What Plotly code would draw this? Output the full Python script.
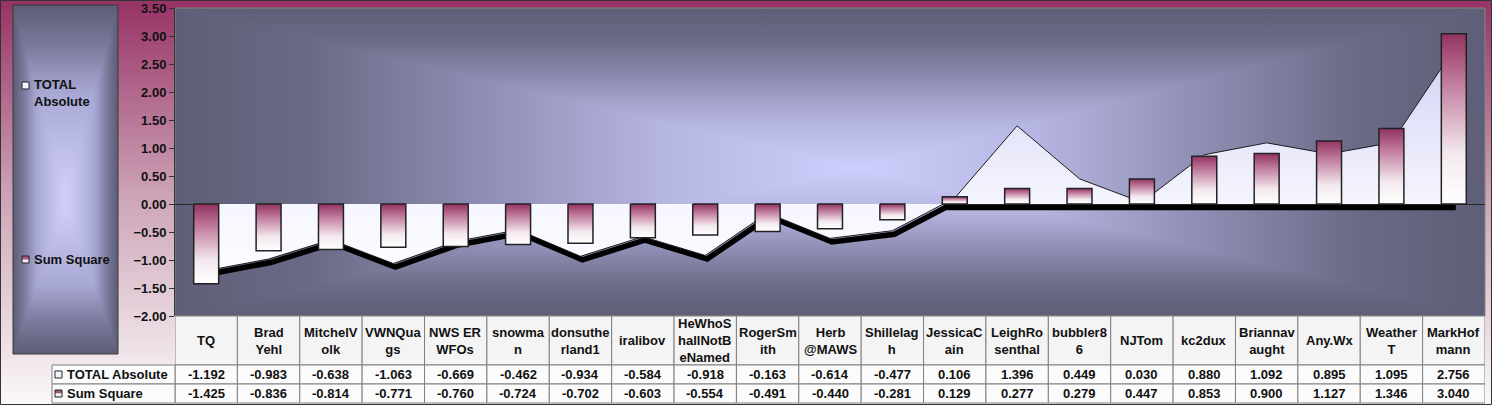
import base64
import numpy as np
import plotly.graph_objects as go

# ---- data -------------------------------------------------------------
categories = ["TQ", "Brad<br>Yehl", "MitchelV<br>olk", "VWNQua<br>gs", "NWS ER<br>WFOs",
              "snowma<br>n", "donsuthe<br>rland1", "iralibov", "HeWhoS<br>hallNotB<br>eNamed",
              "RogerSm<br>ith", "Herb<br>@MAWS", "Shillelag<br>h", "JessicaC<br>ain",
              "LeighRo<br>senthal", "bubbler8<br>6", "NJTom", "kc2dux", "Briannav<br>aught",
              "Any.Wx", "Weather<br>T", "MarkHof<br>mann"]
total_absolute = [-1.192, -0.983, -0.638, -1.063, -0.669, -0.462, -0.934, -0.584, -0.918,
                  -0.163, -0.614, -0.477, 0.106, 1.396, 0.449, 0.030, 0.880, 1.092, 0.895,
                  1.095, 2.756]
sum_square = [-1.425, -0.836, -0.814, -0.771, -0.760, -0.724, -0.702, -0.603, -0.554,
              -0.491, -0.440, -0.281, 0.129, 0.277, 0.279, 0.447, 0.853, 0.900, 1.127,
              1.346, 3.040]
series_names = ["TOTAL Absolute", "Sum Square"]
y_ticks = [-2.0, -1.5, -1.0, -0.5, 0.0, 0.5, 1.0, 1.5, 2.0, 2.5, 3.0, 3.5]

# ---- geometry ---------------------------------------------------------
W, H = 1492, 405
PL, PR, PT, PB = 175, 1485, 8, 316          # plot area in pixels
Y_MIN, Y_MAX = -2.0, 3.5
n = len(categories)
FONT = "Arial, Liberation Sans, sans-serif"


def fx(px):
    return (px - PL) / (PR - PL)


def fy(py):
    return (PB - py) / (PB - PT)


def svg_uri(svg):
    return "data:image/svg+xml;base64," + base64.b64encode(svg.encode()).decode()


def stops_xml(stops):
    return "".join(f'<stop offset="{o}" stop-color="{c}"/>' for o, c in stops)


def center_gradient(cx, cy, stops):
    """Rectangular 'from centre' gradient built from four triangles."""
    tris = [
        ("t", f"0,0 100,0 {cx},{cy}", (0, 0, 0, cy)),
        ("b", f"0,100 100,100 {cx},{cy}", (0, 100, 0, cy)),
        ("l", f"0,0 0,100 {cx},{cy}", (0, 0, cx, 0)),
        ("r", f"100,0 100,100 {cx},{cy}", (100, 0, cx, 0)),
    ]
    defs = "".join(
        f'<linearGradient id="{k}" gradientUnits="userSpaceOnUse" x1="{a}" y1="{b}" '
        f'x2="{c}" y2="{d}">{stops_xml(stops)}</linearGradient>'
        for k, _, (a, b, c, d) in tris)
    polys = "".join(f'<polygon points="{p}" fill="url(#{k})" stroke="url(#{k})" '
                    f'stroke-width="0.3"/>' for k, p, _ in tris)
    return svg_uri(
        '<svg xmlns="http://www.w3.org/2000/svg" width="100" height="100" '
        'viewBox="0 0 100 100" preserveAspectRatio="none">'
        f'<defs>{defs}</defs><rect width="100" height="100" fill="{stops[1][1]}"/>'
        f'{polys}</svg>')


bg_svg = svg_uri(
    '<svg xmlns="http://www.w3.org/2000/svg" width="400" height="400" viewBox="0 0 400 400" '
    'preserveAspectRatio="none"><defs><linearGradient id="g" x1="0" y1="0" x2="0" y2="1">'
    '<stop offset="0" stop-color="#973265"/><stop offset="0.5" stop-color="#cea7b9"/>'
    '<stop offset="1" stop-color="#fbf8fa"/></linearGradient></defs>'
    '<rect width="400" height="400" fill="url(#g)"/></svg>')

plot_svg = center_gradient(52, 52, [(0, "#5e5e78"), (0.2, "#6a6a86"), (0.45, "#8e8eb4"),
                                    (0.72, "#b6b6e2"), (1, "#cfcffd")])
legend_svg = center_gradient(50, 56, [(0, "#5c5c76"), (0.2, "#78789a"), (0.45, "#a8a8d4"),
                                      (1, "#d2d2fd")])

fig = go.Figure()

# ---- drop shadow under the area outline --------------------------------
px_per_unit = (PB - PT) / (Y_MAX - Y_MIN)
sh_dy = 3.5 / px_per_unit
sh_dx = 2.0 / ((PR - PL) / n)
sx, sy = [], []
for i, v in enumerate(total_absolute):
    if i > 0:
        p = total_absolute[i - 1]
        if (p < 0) != (v < 0):
            xc = (i - 1) + p / (p - v)
            sx.append(xc)
            sy.append(0.0)
    sx.append(float(i))
    sy.append(min(v, 0.0))
fig.add_trace(go.Scatter(x=[x + sh_dx for x in sx], y=[y - sh_dy for y in sy],
                         mode="lines", line=dict(color="#000000", width=5.5),
                         hoverinfo="skip", showlegend=False))

# ---- TOTAL Absolute area ----------------------------------------------
fig.add_trace(go.Scatter(
    x=list(range(n)), y=total_absolute, name=series_names[0], mode="lines",
    fill="tozeroy", line=dict(color="#1c1c1c", width=1),
    fillgradient=dict(type="vertical",
                      colorscale=[[0, "#fbfbff"], [0.3, "#f6f6ff"], [1, "#d2d2f5"]]),
    showlegend=False))

# ---- Sum Square bars (gradient filled) ---------------------------------
bar_half = 0.2
bar_scale = [[0, "#ffffff"], [0.3, "#f3e8ee"], [0.7, "#c27f9f"], [1, "#933262"]]
for i, v in enumerate(sum_square):
    fig.add_trace(go.Scatter(
        x=[i - bar_half, i - bar_half, i + bar_half, i + bar_half, i - bar_half],
        y=[0, v, v, 0, 0], mode="lines", fill="toself",
        line=dict(color="#222222", width=1.5),
        fillgradient=dict(type="vertical", colorscale=bar_scale),
        name=series_names[1], showlegend=False, hoverinfo="skip"))

# ---- background images -------------------------------------------------
images = [
    dict(source=bg_svg, xref="paper", yref="paper", x=fx(0), y=fy(0),
         sizex=fx(W) - fx(0), sizey=fy(0) - fy(H), xanchor="left", yanchor="top",
         sizing="stretch", layer="below"),
    dict(source=plot_svg, xref="paper", yref="paper", x=0, y=1, sizex=1, sizey=1,
         xanchor="left", yanchor="top", sizing="stretch", layer="below"),
    dict(source=legend_svg, xref="paper", yref="paper", x=fx(13), y=fy(5),
         sizex=fx(118) - fx(13), sizey=fy(5) - fy(354), xanchor="left", yanchor="top",
         sizing="stretch", layer="below"),
]

shapes = []
annotations = []
grid = "#808080"

# plot area frame (top / right)
shapes.append(dict(type="rect", xref="paper", yref="paper", x0=0, x1=1, y0=0, y1=1,
                   line=dict(color="#7c8c7e", width=1), fillcolor="rgba(0,0,0,0)",
                   layer="below"))

# legend box frame
shapes.append(dict(type="rect", xref="paper", yref="paper", x0=fx(13), x1=fx(118),
                   y0=fy(354), y1=fy(5), line=dict(color="#3a3a3a", width=1),
                   fillcolor="rgba(0,0,0,0)", layer="below"))


def marker(x0px, ymid, kind):
    x1px = x0px + 7
    if kind == 0:
        shapes.append(dict(type="rect", xref="paper", yref="paper", x0=fx(x0px), x1=fx(x1px),
                           y0=fy(ymid + 3.5), y1=fy(ymid - 3.5), fillcolor="#f4f4ff",
                           line=dict(color="#222", width=1), layer="above"))
    else:
        shapes.append(dict(type="rect", xref="paper", yref="paper", x0=fx(x0px), x1=fx(x1px),
                           y0=fy(ymid), y1=fy(ymid - 3.5), fillcolor="#a8537d",
                           line=dict(width=0), layer="above"))
        shapes.append(dict(type="rect", xref="paper", yref="paper", x0=fx(x0px), x1=fx(x1px),
                           y0=fy(ymid + 3.5), y1=fy(ymid), fillcolor="#f6eef2",
                           line=dict(width=0), layer="above"))
        shapes.append(dict(type="rect", xref="paper", yref="paper", x0=fx(x0px), x1=fx(x1px),
                           y0=fy(ymid + 3.5), y1=fy(ymid - 3.5), fillcolor="rgba(0,0,0,0)",
                           line=dict(color="#222", width=1), layer="above"))


# legend entries
marker(22, 85.5, 0)
annotations.append(dict(xref="paper", yref="paper", x=fx(32), y=fy(92.5), xanchor="left",
                        yanchor="middle", align="left", showarrow=False,
                        text="TOTAL<br>Absolute",
                        font=dict(family=FONT, size=13, color="#111", weight="bold")))
marker(22, 259.5, 1)
annotations.append(dict(xref="paper", yref="paper", x=fx(32), y=fy(259.5), xanchor="left",
                        yanchor="middle", showarrow=False, text=series_names[1],
                        font=dict(family=FONT, size=13, color="#111", weight="bold")))

# ---- data table --------------------------------------------------------
HDR_T, HDR_B, R1_B, R2_B = 316, 365, 384, 403
for i, lab in enumerate(categories):
    shapes.append(dict(type="rect", xref="x", yref="paper", x0=i - 0.5, x1=i + 0.5,
                       y0=fy(HDR_B), y1=fy(HDR_T), fillcolor="#f4f4f4",
                       line=dict(color=grid, width=1), layer="below"))
    annotations.append(dict(xref="x", yref="paper", x=i, y=fy((HDR_T + HDR_B) / 2),
                            xanchor="center", yanchor="middle", showarrow=False, text=lab,
                            font=dict(family=FONT, size=13, color="#111", weight="bold")))
    for (top, bot), vals in (((HDR_B, R1_B), total_absolute), ((R1_B, R2_B), sum_square)):
        shapes.append(dict(type="rect", xref="x", yref="paper", x0=i - 0.5, x1=i + 0.5,
                           y0=fy(bot), y1=fy(top), fillcolor="#fbfbfb",
                           line=dict(color=grid, width=1), layer="below"))
        annotations.append(dict(xref="x", yref="paper", x=i, y=fy((top + bot) / 2),
                                xanchor="center", yanchor="middle", showarrow=False,
                                text=f"{vals[i]:.3f}",
                                font=dict(family=FONT, size=13, color="#111", weight="bold")))

for k, (top, bot) in enumerate(((HDR_B, R1_B), (R1_B, R2_B))):
    shapes.append(dict(type="rect", xref="paper", yref="paper", x0=fx(52), x1=0,
                       y0=fy(bot), y1=fy(top), fillcolor="#fbfbfb",
                       line=dict(color=grid, width=1), layer="below"))
    marker(55, (top + bot) / 2, k)
    annotations.append(dict(xref="paper", yref="paper", x=fx(65), y=fy((top + bot) / 2),
                            xanchor="left", yanchor="middle", showarrow=False,
                            text=series_names[k],
                            font=dict(family=FONT, size=13, color="#111", weight="bold")))

# outer frame
shapes.append(dict(type="rect", xref="paper", yref="paper", x0=fx(0.5), x1=fx(W - 0.5),
                   y0=fy(H - 0.5), y1=fy(0.5), line=dict(color="#333", width=1),
                   fillcolor="rgba(0,0,0,0)", layer="above"))

fig.update_layout(
    width=W, height=H, margin=dict(l=PL, r=W - PR, t=PT, b=H - PB, pad=0),
    paper_bgcolor="#c89aae", plot_bgcolor="rgba(0,0,0,0)", showlegend=False,
    images=images, shapes=shapes, annotations=annotations,
    xaxis=dict(range=[-0.5, n - 0.5], showticklabels=False, ticks="", showgrid=False,
               zeroline=False, showline=False, fixedrange=True, automargin=False),
    yaxis=dict(range=[Y_MIN, Y_MAX], tickvals=y_ticks, tickformat=".2f", ticks="outside",
               ticklen=5, tickcolor="#333", showline=True, linecolor="#333", linewidth=1,
               showgrid=False, zeroline=True, zerolinecolor="#2a2a2a", zerolinewidth=1,
               tickfont=dict(family=FONT, size=13, color="#111", weight="bold"),
               fixedrange=True, automargin=False),
)

fig.write_html("out.html")
